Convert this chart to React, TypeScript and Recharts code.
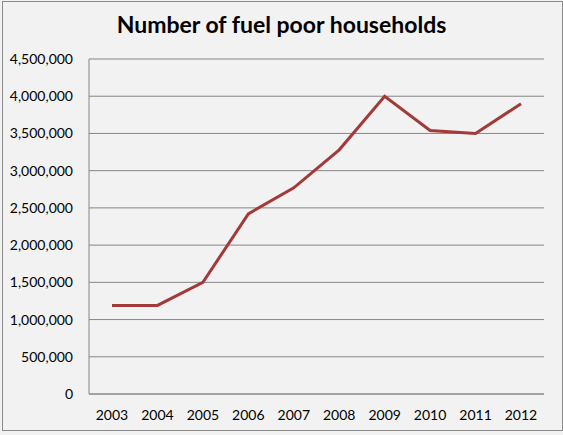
import React from "react";
import { LineChart, Line, XAxis, YAxis, CartesianGrid } from "recharts";

const YEARS = ["2003", "2004", "2005", "2006", "2007", "2008", "2009", "2010", "2011", "2012"];
const HOUSEHOLDS = [1190000, 1190000, 1500000, 2420000, 2770000, 3280000, 4000000, 3540000, 3500000, 3900000];
const Y_TICKS = [0, 500000, 1000000, 1500000, 2000000, 2500000, 3000000, 3500000, 4000000, 4500000];

const LINE = "#a33a3a";
const GRID = "#868686";
const FONT = "Lato, 'Open Sans', sans-serif";

const data = YEARS.map((year, i) => ({ year, value: HOUSEHOLDS[i] }));

export default function App() {
  return (
    <div style={{ position: "absolute", left: 0, top: 0, width: 563, height: 435, background: "#f2f2f2" }}>
      <div
        style={{
          position: "absolute",
          left: 2,
          top: 1,
          width: 559,
          height: 428,
          border: "1px solid #8a8a8a",
        }}
      />
      <div
        style={{
          position: "absolute",
          left: 0,
          top: 13,
          width: 563,
          textAlign: "center",
          fontFamily: FONT,
          fontWeight: 700,
          fontSize: 23,
          lineHeight: "23px",
          color: "#000",
        }}
      >
        Number of fuel poor households
      </div>
      <div style={{ position: "absolute", left: 0, top: 0 }}>
        <LineChart width={563} height={435} data={data} margin={{ top: 59, right: 19, bottom: 11, left: 0 }}>
          <CartesianGrid vertical={false} stroke={GRID} strokeWidth={1} />
          <XAxis
            dataKey="year"
            height={30}
            padding={{ left: 23, right: 23 }}
            axisLine={{ stroke: GRID }}
            tickLine={false}
            tickMargin={10}
            tick={{ fontSize: 14, fill: "#000", fontFamily: FONT }}
          />
          <YAxis
            width={89}
            domain={[0, 4500000]}
            ticks={Y_TICKS}
            axisLine={{ stroke: GRID }}
            tickLine={false}
            tickSize={0}
            tickMargin={16}
            tickFormatter={(v: number) => v.toLocaleString("en-US")}
            tick={{ fontSize: 14, fill: "#000", fontFamily: FONT }}
          />
          <Line
            type="linear"
            dataKey="value"
            stroke={LINE}
            strokeWidth={3}
            dot={false}
            isAnimationActive={false}
          />
        </LineChart>
      </div>
    </div>
  );
}
